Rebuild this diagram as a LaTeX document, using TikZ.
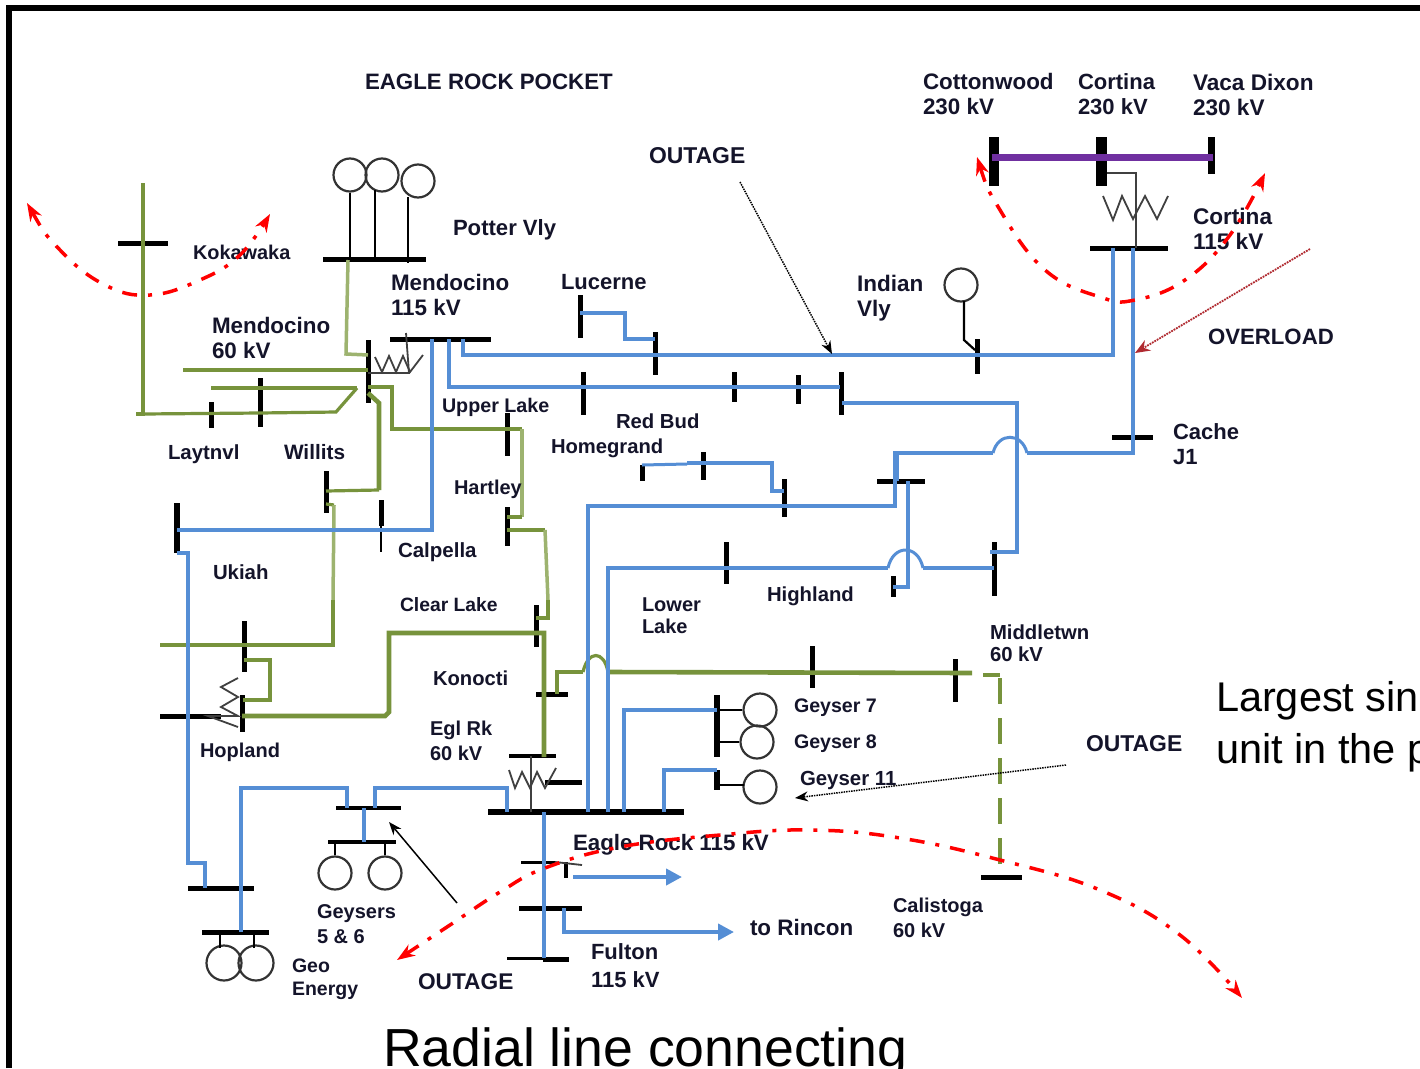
\documentclass[tikz,border=0pt]{standalone}
\usepackage{fontspec}
\setmainfont{Liberation Sans}
\usetikzlibrary{arrows.meta,calc}
\definecolor{lblue}{HTML}{558ED5}
\definecolor{lgreen}{HTML}{77933C}
\definecolor{pale}{HTML}{9DB36F}
\definecolor{lpurple}{HTML}{7030A0}
\definecolor{darkred}{HTML}{B02A30}
\definecolor{ink}{HTML}{14142A}
\tikzset{
 x=1pt,y=-1pt,
 hbus/.style={fill=black,draw=none,inner sep=0,outer sep=0,minimum height=#1},
 hbus/.default=5,
 vbus/.style={fill=black,draw=none,inner sep=0,outer sep=0,minimum width=#1},
 vbus/.default=5,
 bl/.style={draw=lblue,line width=4.8pt,line join=miter},
 blthin/.style={draw=lblue,line width=3pt},
 gr/.style={draw=lgreen,line width=4.6pt,line join=miter},
 grthin/.style={draw=lgreen,line width=3.2pt},
 grpale/.style={draw=pale,line width=3.5pt},
 stem/.style={draw=black,line width=2.2pt},
 gen/.style={circle,draw=black!80,line width=2.2pt,fill=none,inner sep=0,minimum size=#1},
 gen/.default=33,
 coil/.style={draw=black!75,line width=1.8pt,line join=miter},
 redcut/.style={draw=red,line width=3.5pt,dash pattern=on 15pt off 11pt on 4pt off 11pt,{Stealth[length=18pt,width=13pt]}-{Stealth[length=18pt,width=13pt]}},
 note/.style={draw=black,line width=1.5pt,densely dotted,-{Stealth[length=13pt,width=10pt]}},
 lab/.style={inner sep=0,outer sep=0,anchor=west,align=left,text=ink,font=\fontsize{#1}{25}\selectfont\bfseries},
 lab/.default=21,
 big/.style={inner sep=0,outer sep=0,anchor=base west,text=black,font=\fontsize{#1}{#1}\selectfont},
}
\begin{document}
\begin{tikzpicture}
\useasboundingbox (0,0) rectangle (1420,1068);
\clip (0,0) rectangle (1420,1068);
\fill[white] (0,0) rectangle (1420,1068);
% frame
\coordinate (fa) at (9,1068); \coordinate (fb) at (9,8); \coordinate (fc) at (1420,8);
\draw[black,line width=5.5pt] (fa) -- (fb) -- (fc);

% buses
\node[hbus,minimum width=50] (kok) at (143,243) {};
\node[hbus,minimum width=103] (potter) at (374.5,259) {};
\node[hbus,minimum width=101] (men115) at (440.5,339) {};
\node[vbus,minimum height=63] (men60) at (368,371.5) {};
\node[vbus,minimum height=26] (lay) at (211,415) {};
\node[vbus,minimum height=49] (wil) at (260,402.5) {};
\node[vbus,minimum height=42] (wil2) at (326,492) {};
\node[vbus=5.5,minimum height=50] (uki) at (177,528) {};
\node[vbus,minimum height=26] (cal) at (381,513) {};
\node[vbus=2.8,minimum height=52] (cal2) at (381,526) {};
\node[vbus,minimum height=43] (upper) at (507,434.5) {};
\node[vbus,minimum height=39] (hart) at (507,526.5) {};
\node[vbus,minimum height=42] (clear) at (536,626) {};
\node[hbus,minimum width=32] (kon) at (552,694) {};
\node[vbus,minimum height=51] (hop1) at (244,646.5) {};
\node[vbus,minimum height=37] (hop2) at (242,713.5) {};
\node[hbus,minimum width=61] (hop3) at (190.5,716) {};
\node[hbus=3.5,minimum width=47] (egl) at (532.5,756) {};
\node[hbus,minimum width=37] (egl2) at (563.5,782) {};
\node[hbus=5.5,minimum width=196] (eagle) at (585.5,812) {};
\node[hbus=4.5,minimum width=65] (gey1) at (368.5,808) {};
\node[hbus=4.5,minimum width=68] (gey2) at (362,842) {};
\node[hbus,minimum width=66] (left) at (221,888) {};
\node[hbus,minimum width=67] (geo) at (235.5,932) {};
\node[hbus=3,minimum width=34] (ful1) at (538,862) {};
\node[vbus=4,minimum height=16] (ful1b) at (566,870) {};
\node[hbus,minimum width=63] (ful2) at (550.5,908) {};
\node[hbus=3,minimum width=37] (ful3a) at (525.5,958) {};
\node[hbus,minimum width=26] (ful3b) at (556,959) {};
\node[vbus=5.5,minimum height=62] (g78) at (717,726) {};
\node[vbus=5.5,minimum height=20] (g11) at (717,780) {};
\node[vbus,minimum height=43] (up1) at (580,316) {};
\node[vbus,minimum height=43] (up2) at (655,353) {};
\node[vbus,minimum height=43] (r1) at (583,393.5) {};
\node[vbus,minimum height=30] (r2) at (734,387) {};
\node[vbus,minimum height=29] (r3) at (798,389.5) {};
\node[vbus,minimum height=43] (r4) at (841,393.5) {};
\node[vbus,minimum height=35] (ind) at (977,356.5) {};
\node[vbus,minimum height=16] (home1) at (642,473) {};
\node[vbus,minimum height=28] (home2) at (703,466) {};
\node[vbus,minimum height=38] (home3) at (784,498) {};
\node[hbus,minimum width=48] (cross) at (901,481) {};
\node[vbus,minimum height=42] (low) at (726,563) {};
\node[vbus,minimum height=21] (high) at (893,586) {};
\node[vbus,minimum height=54] (mid) at (994,569) {};
\node[vbus,minimum height=42] (green1) at (812,667) {};
\node[vbus,minimum height=43] (green2) at (955,680.5) {};
\node[hbus,minimum width=41] (cali) at (1001,877) {};
\node[hbus,minimum width=78] (cor115) at (1129,248) {};
\node[vbus=10,minimum height=49] (cot) at (994,161.5) {};
\node[vbus=11,minimum height=49] (cor230) at (1101,161.5) {};
\node[vbus=7,minimum height=37] (vaca) at (1211,155.5) {};
\node[hbus,minimum width=41] (cache) at (1132.5,437) {};

% generators
\node[gen] (p1) at (350,175) {};
\node[gen] (p2) at (382,175) {};
\node[gen] (p3) at (418,181) {};
\node[gen] (g5) at (335,873) {};
\node[gen] (g6) at (385,873) {};
\node[gen=35] (ge1) at (224,963) {};
\node[gen=35] (ge2) at (256,963) {};
\node[gen] (g7) at (760,710) {};
\node[gen] (g8) at (757,742) {};
\node[gen] (g11c) at (760,787) {};
\node[gen] (indg) at (961,285) {};

% generator stems
\draw[stem] (p1.south) -- (p1.south |- potter.center);
\draw[stem] (375,190) -- (375,259);
\draw[stem] (408,197) -- (408,263);
\draw[stem] (g5.north) -- (g5.north |- gey2.center);
\draw[stem] (g6.north) -- (g6.north |- gey2.center);
\draw[stem] (220,932) -- (220,948);
\draw[stem] (254,932) -- (254,948);
\draw[stem] (717,710) -- (g7.west);
\draw[stem] (717,742) -- (g8.west);
\draw[stem] (717,785) -- (744,785);
\draw[stem] (964,301) -- (964,340) -- (975,350);

% green network
\draw[gr] (kok.center) -- (143,183);
\draw[gr] (kok.center) -- (143,414) -- (136,414);
\draw[grthin] (143,414) -- (260,413) -- (336,412) -- (357,388);
\draw[gr] (211,388) -- (357,388);
\draw[grthin] (183,370) -- (368,370);
\draw[grpale] (348,260) -- (346,354) -- (368,355);
\draw[gr] (368,387) -- (392,387) -- (392,429) -- (522,429);
\draw[grpale] (522,429) -- (522,517);
\draw[gr] (522,517) -- (507,517);
\draw[gr] (507,530) -- (545,530);
\draw[grpale] (545,530) -- (548,600);
\draw[gr] (548,600) -- (548,618) -- (536,618);
\draw[gr] (368,393) -- (379,403) -- (379,490);
\draw[grthin] (379,490) -- (326,491);
\draw[grthin] (326,504) -- (334,505);
\draw[grpale] (334,505) -- (333,600);
\draw[gr] (333,600) -- (333,645) -- (160,645);
\draw[gr] (244,660) -- (270,660) -- (270,700) -- (243,700);
\draw[gr] (242,716) -- (385,716) -- (389,712) -- (389,633) -- (544,633) -- (544,757);
\draw[gr] (557,694) -- (557,672) -- (583,672);
\draw[grthin] (583,672) .. controls (588,650) and (604,650) .. (608,672);
\draw[gr] (608,672) -- (972,673);
\draw[draw=lgreen,line width=4.6pt] (983,675) -- (1000,675);
\draw[draw=lgreen,line width=4.6pt,dash pattern=on 26pt off 14pt] (1000,678) -- (1000,877);

% blue network
\draw[bl] (432,339) -- (432,530) -- (177,530);
\draw[bl] (449,339) -- (449,387) -- (840,387);
\draw[bl] (463,339) -- (463,355) -- (1113,355) -- (1113,248);
\draw[bl] (580,313) -- (625,313) -- (625,339) -- (655,339);
\draw[bl] (1133,248) -- (1133,453) -- (1027,453);
\draw[blthin] (1027,453) .. controls (1022,432) and (998,432) .. (993,453);
\draw[bl] (993,453) -- (895,453) -- (895,506) -- (588,506) -- (588,812);
\draw[bl] (897,453) -- (897,481);
\draw[bl] (908,481) -- (908,587) -- (893,587);
\draw[bl] (842,403) -- (1017,403) -- (1017,552) -- (990,552);
\draw[bl] (608,812) -- (608,568) -- (888,568);
\draw[blthin] (888,568) .. controls (893,544) and (918,544) .. (923,568);
\draw[bl] (923,568) -- (994,568);
\draw[blthin] (642,465) -- (687,464);
\draw[bl] (687,463) -- (772,463) -- (772,491) -- (784,491);
\draw[bl] (624,812) -- (624,710) -- (717,710);
\draw[bl] (664,812) -- (664,770) -- (717,770);
\draw[bl] (507,812) -- (507,788) -- (375,788) -- (375,808);
\draw[bl] (347,808) -- (347,788) -- (241,788) -- (241,932);
\draw[bl] (364,808) -- (364,842);
\draw[bl] (177,553) -- (188,553) -- (188,863) -- (205,863) -- (205,888);
\draw[bl] (544,812) -- (544,958);
\draw[bl,-{Triangle[length=16pt,width=16pt]}] (573,877) -- (682,877);
\draw[bl,-{Triangle[length=16pt,width=16pt]}] (564,908) -- (564,932) -- (734,932);

% purple 230 kV
\coordinate (pa) at (992,157); \coordinate (pb) at (1213,157);
\draw[draw=lpurple,line width=7pt] (pa) -- (pb);

% transformers
\draw[coil] (368,373) -- (409,373) -- (406,333);
\draw[coil] (375,357) -- (382,372) -- (389,356) -- (396,372) -- (403,356) -- (410,372) -- (423,355);
\draw[coil] (1107,173) -- (1136,173) -- (1136,248);
\draw[coil] (1103,196) -- (1113,220) -- (1122,196) -- (1133,219) -- (1145,196) -- (1157,219) -- (1168,196);
\draw[coil] (238,678) -- (221,687) -- (238,697) -- (221,707) -- (238,716) -- (208,716) -- (238,727);
\draw[coil] (531,756) -- (531,812);
\draw[coil] (509,770) -- (515,788) -- (522,772) -- (530,788) -- (537,772) -- (545,788) -- (556,768);
\draw[coil] (555,862) -- (582,865);

% notes
\coordinate (n1a) at (740,182); \coordinate (n1b) at (832,354);
\draw[note] (n1a) -- (n1b);
\coordinate (n2a) at (457,903); \coordinate (n2b) at (389,822);
\draw[draw=black,line width=1.5pt,-{Stealth[length=13pt,width=10pt]}] (n2a) -- (n2b);
\coordinate (n3a) at (1066,765); \coordinate (n3b) at (795,798);
\draw[note] (n3a) -- (n3b);
\coordinate (n4a) at (1310,249); \coordinate (n4b) at (1135,353);
\draw[draw=darkred,line width=1.8pt,densely dotted,-{Stealth[length=15pt,width=12pt]}] (n4a) -- (n4b);

% labels
\node[lab=22.3] (t1) at (365,82) {EAGLE ROCK POCKET};
\node[lab=22.4] (t2) at (923,94.5) {Cottonwood\\230 kV};
\node[lab=22] (t3) at (1078,94.5) {Cortina\\230 kV};
\node[lab=22.6] (t4) at (1193,94.5) {Vaca Dixon\\230 kV};
\node[lab=22.9] (t5) at (649,156) {OUTAGE};
\node[lab=22.1] (t6) at (453,230) {Potter Vly};
\node[lab=19.9] (t7) at (193,252) {Kokawaka};
\node[lab=22.4] (t8) at (391,294.5) {Mendocino\\115 kV};
\node[lab=22] (t9) at (561,282) {Lucerne};
\node[lab=22.5] (t10) at (857,298) {Indian\\Vly};
\node[lab=22.6] (t11) at (1193,228.5) {Cortina\\115 kV};
\node[lab=22.2] (t12) at (1208,337) {OVERLOAD};
\node[lab=22.4] (t13) at (212,337.5) {Mendocino\\60 kV};
\node[lab=19.7] (t14) at (442,407) {Upper Lake};
\node[lab=20.4] (t15) at (168,454) {Laytnvl};
\node[lab=20.8] (t16) at (284,452) {Willits};
\node[lab=20.2] (t17) at (551,448) {Homegrand};
\begin{scope}
\clip (600,400) rectangle (720,428);
\node[lab=20.3] (t18) at (616,421) {Red Bud};
\end{scope}
\node[lab=22] (t19) at (1173,444.5) {Cache\\J1};
\node[lab=20] (t20) at (454,489) {Hartley};
\node[lab=20.5] (t21) at (398,552) {Calpella};
\node[lab=20.4] (t22) at (213,572) {Ukiah};
\node[lab=19.3] (t23) at (400,605) {Clear Lake};
\node[lab=20] (t24) at (642,616) {Lower\\[-3pt]Lake};
\node[lab=20.3] (t25) at (767,596) {Highland};
\node[lab=20.3] (t26) at (990,643.5) {Middletwn\\[-3pt]60 kV};
\node[lab=20.2] (t27) at (433,678) {Konocti};
\node[lab=20] (t28) at (430,741) {Egl Rk\\60 kV};
\node[lab=19.6] (t29) at (794,708) {Geyser 7};
\node[lab=19.6] (t30) at (794,744) {Geyser 8};
\node[lab=20.4] (t31) at (800,780) {Geyser 11};
\node[lab=22.9] (t32) at (1086,744) {OUTAGE};
\node[lab=20] (t33) at (200,752) {Hopland};
\node[lab=22.3] (t34) at (573,845) {Eagle Rock 115 kV};
\node[lab=20] (t35) at (317,924) {Geysers\\5 \& 6};
\node[lab=20] (t36) at (893,918) {Calistoga\\60 kV};
\node[lab=22.4] (t37) at (750,927) {to Rincon};
\node[lab=22] (t38) at (591,965.5) {Fulton\\[3pt]115 kV};
\node[lab=19.5] (t39) at (292,979) {Geo\\[-2pt]Energy};
\node[lab=22.7] (t40) at (418,982) {OUTAGE};
\node[big=41.5] (t41) at (1216,711) {Largest sin};
\node[big=41.5] (t42) at (1216,763) {unit in the p};
\node[big=53.6] (t43) at (383,1066) {Radial line connecting};

% red cut curves
\draw[redcut] plot[smooth,tension=0.7] coordinates {(27,203) (60,250) (105,285) (150,295) (200,280) (240,255) (270,214)};
\draw[redcut] plot[smooth,tension=0.7] coordinates {(977,157) (1000,210) (1045,270) (1100,297) (1135,300) (1185,280) (1230,235) (1265,173)};
\draw[redcut] plot[smooth,tension=0.7] coordinates {(397,960) (450,925) (500,892) (545,868) (620,847) (720,835) (810,830) (900,838) (1000,860) (1100,890) (1180,935) (1242,998)};
\end{tikzpicture}
\end{document}
